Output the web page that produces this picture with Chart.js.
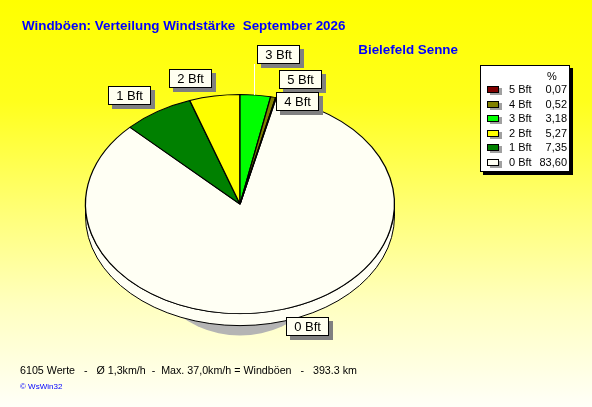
<!DOCTYPE html>
<html>
<head>
<meta charset="utf-8">
<script src="https://cdn.jsdelivr.net/npm/chart.js@4/dist/chart.umd.min.js"></script>
<style>
    html, body { margin: 0; padding: 0; }
    body {
        width: 592px; height: 407px; overflow: hidden;
        background: linear-gradient(to bottom, #ffff00 0%, #ffff1c 25%, #ffff70 50%, #ffffc0 75%, #fffff8 100%);
    }
</style>
</head>
<body>
<canvas id="pieChart" width="592" height="407" style="width:592px;height:407px;display:block"></canvas>
<script>
const categories = ['0 Bft', '1 Bft', '2 Bft', '3 Bft', '4 Bft', '5 Bft'];
const percentValues = [83.60, 7.35, 5.27, 3.18, 0.52, 0.07];
const sliceColors = ['#fffff4', '#008000', '#ffff00', '#00ff00', '#808000', '#800000'];

const titleText = 'Windböen: Verteilung Windstärke  September 2026';
const stationText = 'Bielefeld Senne';
const footerText = '6105 Werte   -   Ø 1,3km/h  -  Max. 37,0km/h = Windböen   -   393.3 km';
const creditText = '© WsWin32';

const FONT = "'Liberation Sans', Arial, sans-serif";
const TILT = 0.709;   // vertical squash of the pie
const DEPTH = 12;     // thickness of the pie wall

// the 3 Bft slice starts at 12 o'clock
const total = percentValues.reduce((a, b) => a + b, 0);
const rotation = 360 * percentValues.slice(3).reduce((a, b) => a + b, 0) / total;

let sliceGeom = (chart) => {
    const arcs = chart.getDatasetMeta(0).data;
    const a = arcs[0];
    return { arcs, cx: a.x, cy: a.y, rx: a.outerRadius, ry: a.outerRadius * TILT };
};

const tiltPlugin = {
    id: 'tilt',
    beforeDatasetsDraw(chart) {
        const ctx = chart.ctx;
        const g = sliceGeom(chart);

        // soft shadow under the pie
        ctx.save();
        ctx.fillStyle = '#b4b4b4';
        ctx.beginPath();
        ctx.ellipse(g.cx, g.cy + DEPTH, g.rx * 0.71, g.ry * 1.09, 0, 0, Math.PI * 2);
        ctx.fill();

        // front wall
        ctx.lineWidth = 1;
        ctx.strokeStyle = '#000';
        g.arcs.forEach((arc, i) => {
            for (let k = -1; k <= 1; k++) {
                const off = k * 2 * Math.PI;
                const a0 = Math.max(arc.startAngle + off, 0);
                const a1 = Math.min(arc.endAngle + off, Math.PI);
                if (a1 <= a0) continue;
                ctx.beginPath();
                ctx.ellipse(g.cx, g.cy, g.rx, g.ry, 0, a0, a1);
                ctx.lineTo(g.cx + g.rx * Math.cos(a1), g.cy + g.ry * Math.sin(a1) + DEPTH);
                ctx.ellipse(g.cx, g.cy + DEPTH, g.rx, g.ry, 0, a1, a0, true);
                ctx.closePath();
                ctx.fillStyle = sliceColors[i];
                ctx.fill();
                ctx.stroke();
            }
        });
        ctx.restore();

        ctx.save();
        ctx.translate(g.cx, g.cy);
        ctx.scale(1, TILT);
        ctx.translate(-g.cx, -g.cy);
    },
    afterDatasetsDraw(chart) {
        chart.ctx.restore();
    }
};

const calloutPlugin = {
    id: 'callouts',
    afterDraw(chart) {
        const ctx = chart.ctx;
        const g = sliceGeom(chart);
        ctx.save();
        ctx.font = '13px ' + FONT;
        const h = 19;
        const step = h + 3;
        const boxes = [];
        for (let i = g.arcs.length - 1; i >= 0; i--) {
            const arc = g.arcs[i];
            const mid = (arc.startAngle + arc.endAngle) / 2;
            const c = Math.cos(mid), s = Math.sin(mid);
            const w = Math.round(ctx.measureText(categories[i]).width) + 16;
            const ax = g.cx + g.rx * 1.08 * c;
            const ay = g.cy + g.ry * 1.08 * s;
            const bx = Math.round(c >= 0 ? ax : ax - w);
            const natural = Math.round(ay + s * h / 2 - h / 2);
            const hits = y => boxes.some(b => bx < b.x + b.w + 2 && bx + w + 2 > b.x && y < b.y + b.h + 1 && y + h + 1 > b.y);
            let by = natural;
            for (let k = 1; hits(by) && k < 10; k++) {
                if (!hits(natural + k * step)) { by = natural + k * step; break; }
                if (!hits(natural - k * step)) { by = natural - k * step; break; }
            }
            boxes.push({ x: bx, y: by, w, h, i, ex: g.cx + g.rx * c, ey: g.cy + g.ry * s, moved: by !== natural });
        }

        boxes.forEach(b => {
            if (b.moved && b.y < b.ey - b.h) {
                ctx.strokeStyle = '#ffffff';
                ctx.lineWidth = 1;
                ctx.beginPath();
                const x = Math.round(b.ex) - 0.5;
                ctx.moveTo(x, b.ey);
                ctx.lineTo(x, b.y + b.h);
                ctx.stroke();
            }
            ctx.fillStyle = '#808080';
            ctx.fillRect(b.x + 4, b.y + 4, b.w, b.h);
            ctx.fillStyle = '#fffff0';
            ctx.fillRect(b.x, b.y, b.w, b.h);
            ctx.strokeStyle = '#000';
            ctx.lineWidth = 1;
            ctx.strokeRect(b.x + 0.5, b.y + 0.5, b.w - 1, b.h - 1);
            ctx.fillStyle = '#000';
            ctx.textAlign = 'center';
            ctx.textBaseline = 'middle';
            ctx.fillText(categories[b.i], b.x + b.w / 2, b.y + b.h / 2 + 1);
        });
        ctx.restore();
    }
};

const legendPlugin = {
    id: 'valueLegend',
    afterDraw(chart) {
        const ctx = chart.ctx;
        const lx = 480, ly = 65, lw = 90, lh = 107;
        ctx.save();
        ctx.fillStyle = '#000';
        ctx.fillRect(lx + 3, ly + 3, lw, lh);
        ctx.fillStyle = '#ffffff';
        ctx.fillRect(lx, ly, lw, lh);
        ctx.strokeStyle = '#000';
        ctx.lineWidth = 1;
        ctx.strokeRect(lx + 0.5, ly + 0.5, lw - 1, lh - 1);

        ctx.font = '11px ' + FONT;
        ctx.textBaseline = 'middle';
        ctx.fillStyle = '#000';
        ctx.textAlign = 'center';
        ctx.fillText('%', 552, 77);

        for (let r = 0; r < categories.length; r++) {
            const i = categories.length - 1 - r;
            const y = Math.round(90 + r * 14.5);
            ctx.fillStyle = '#a0a0a0';
            ctx.fillRect(490, y - 2, 12, 7);
            ctx.fillStyle = sliceColors[i];
            ctx.fillRect(487, y - 4, 12, 7);
            ctx.strokeStyle = '#000';
            ctx.strokeRect(487.5, y - 3.5, 11, 6);
            ctx.fillStyle = '#000';
            ctx.textAlign = 'left';
            ctx.fillText(categories[i], 509, y);
            ctx.textAlign = 'right';
            ctx.fillText(percentValues[i].toFixed(2).replace('.', ','), 567, y);
        }

        ctx.textAlign = 'left';
        ctx.textBaseline = 'alphabetic';
        ctx.font = '10.7px ' + FONT;
        ctx.fillStyle = '#000';
        ctx.fillText(footerText, 20, 374);
        ctx.font = '8px ' + FONT;
        ctx.fillStyle = '#0000ff';
        ctx.fillText(creditText, 20, 389);
        ctx.restore();
    }
};

new Chart(document.getElementById('pieChart'), {
    type: 'pie',
    data: {
        labels: categories,
        datasets: [{
            data: percentValues,
            backgroundColor: sliceColors,
            borderColor: '#000',
            borderWidth: 1.3,
            clip: false
        }]
    },
    options: {
        responsive: false,
        animation: false,
        events: [],
        rotation: rotation,
        radius: 154.5,
        layout: { padding: { top: 8, left: 22, right: 134, bottom: 57 } },
        plugins: {
            legend: { display: false },
            tooltip: { enabled: false },
            title: {
                display: true,
                text: titleText,
                align: 'start',
                color: '#0000ff',
                font: { family: FONT, size: 13.4, weight: 'bold' },
                padding: { top: 10, bottom: 8 }
            },
            subtitle: {
                display: true,
                text: stationText,
                align: 'end',
                color: '#0000ff',
                font: { family: FONT, size: 13.4, weight: 'bold' },
                padding: { top: 0, bottom: 0 }
            }
        }
    },
    plugins: [tiltPlugin, calloutPlugin, legendPlugin]
});
</script>
</body>
</html>
